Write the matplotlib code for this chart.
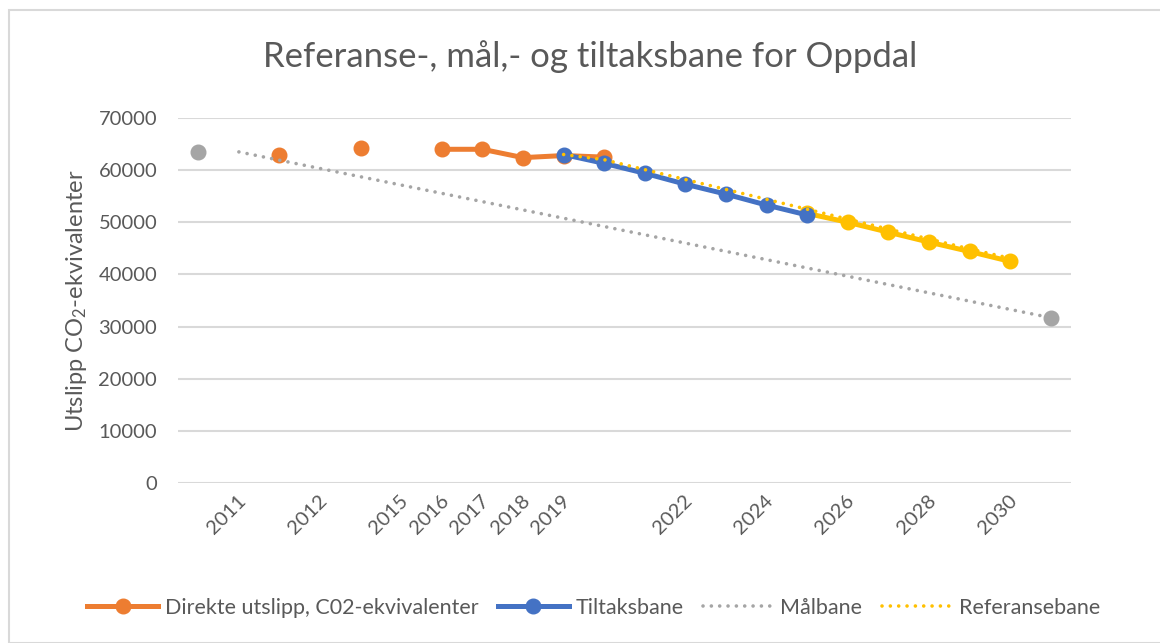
import numpy as np
import matplotlib
matplotlib.use("Agg")
import matplotlib.pyplot as plt
import matplotlib.transforms as mtransforms
from matplotlib.lines import Line2D
from matplotlib.patches import Rectangle

nan = np.nan
# 22 category slots; only some carry a visible label
categories = ["", "2011", "", "2012", "", "2015", "2016", "2017", "2018", "2019",
              "", "", "2022", "", "2024", "", "2026", "", "2028", "", "2030", ""]

direkte = [nan, nan, 62900, nan, 64300, nan, 64000, 64000, 62400, 62800, 62500,
           nan, nan, nan, nan, nan, nan, nan, nan, nan, nan, nan]
tiltaksbane = [nan]*9 + [63000, 61300, 59400, 57300, 55400, 53300, 51400] + [nan]*6
referanse_dotted = [nan]*9 + [63000, 62000, 60100, 58200, 56300, 54400, 52500,
                              50600, 48700, 46800, 44900, 43100] + [nan]
referanse_solid = [nan]*15 + [51700, 50000, 48100, 46200, 44400, 42500] + [nan]
malbane_idx = [1, 21]
malbane_vals = [63500, 31700]
malbane_marker_idx = [0, 21]
malbane_marker_vals = [63400, 31700]

ORANGE = "#ED7D31"
BLUE = "#4472C4"
GRAY = "#A5A5A5"
YELLOW = "#FFC000"
TXT = "#595959"
GRID = "#D9D9D9"

plt.rcParams['font.family'] = ['Lato', 'DejaVu Sans']
plt.rcParams['mathtext.fontset'] = 'custom'
plt.rcParams['mathtext.rm'] = 'Lato'
plt.rcParams['mathtext.it'] = 'Lato:italic'

W, H = 1160, 643
fig = plt.figure(figsize=(W/100, H/100), dpi=100)
fig.patch.set_facecolor("white")
fig.patches.append(Rectangle((9/W, 0.0), 1.2, 1 - 10/H, transform=fig.transFigure,
                             fill=False, edgecolor=GRID, lw=1.5))

ax = fig.add_axes([178/W, 1 - 483/H, (1071-178)/W, (483-118)/H])
x = np.arange(len(categories))

lw_solid = 3.6
ms = 10.5
dot = (0, (0.01, 2.3))
lw_dot = 2.6
ax.plot(x, referanse_solid, color=YELLOW, lw=lw_solid, marker='o', ms=ms, zorder=2)
ax.plot(x, direkte, color=ORANGE, lw=lw_solid, marker='o', ms=ms, zorder=3)
ax.plot(x, tiltaksbane, color=BLUE, lw=lw_solid, marker='o', ms=ms, zorder=4)
ax.plot(malbane_idx, malbane_vals, color=GRAY, lw=lw_dot, linestyle=dot,
        dash_capstyle='round', zorder=5)
ax.plot(malbane_marker_idx, malbane_marker_vals, color=GRAY, lw=0, marker='o', ms=ms,
        markeredgecolor=GRAY, zorder=5)
ax.plot(x, referanse_dotted, color=YELLOW, lw=lw_dot, linestyle=dot,
        dash_capstyle='round', zorder=6)

ax.set_xlim(-0.5, len(categories) - 0.5)
ax.set_ylim(0, 70000)
ax.set_yticks(np.arange(0, 70001, 10000))
ax.grid(axis='y', color=GRID, lw=1.5)
ax.set_axisbelow(True)
for s in ax.spines.values():
    s.set_visible(False)
ax.tick_params(axis='both', length=0, labelsize=14.5, labelcolor=TXT)
ax.tick_params(axis='y', pad=15)

lab_idx = [i for i, c in enumerate(categories) if c]
ax.set_xticks(lab_idx)
ax.set_xticklabels([categories[i] for i in lab_idx], rotation=45, ha='right',
                   va='center', rotation_mode='anchor')
ax.tick_params(axis='x', pad=11)
shift = mtransforms.ScaledTranslation(4/100, 0, fig.dpi_scale_trans)
for lbl in ax.get_xticklabels():
    lbl.set_transform(lbl.get_transform() + shift)

ax.set_ylabel(r'Utslipp CO$_2$-ekvivalenter', fontsize=17, color=TXT, labelpad=7)

fig.text(590/W, 1 - 57/H, "Referanse-, mål,- og tiltaksbane for Oppdal",
         ha='center', va='center', fontsize=25, color=TXT)

handles = [
    Line2D([], [], color=ORANGE, lw=lw_solid, marker='o', ms=ms),
    Line2D([], [], color=BLUE, lw=lw_solid, marker='o', ms=ms),
    Line2D([], [], color=GRAY, lw=lw_dot, linestyle=dot, dash_capstyle='round'),
    Line2D([], [], color=YELLOW, lw=lw_dot, linestyle=dot, dash_capstyle='round'),
]
labels = ["Direkte utslipp, C02-ekvivalenter", "Tiltaksbane", "Målbane", "Referansebane"]
leg = fig.legend(handles, labels, loc='center', bbox_to_anchor=(594/W, 1 - 608/H),
                 ncol=4, frameon=False, fontsize=15.5, handlelength=3.3,
                 handletextpad=0.3, columnspacing=0.9, labelcolor=TXT)

fig.savefig("out.png", dpi=100, facecolor="white")
